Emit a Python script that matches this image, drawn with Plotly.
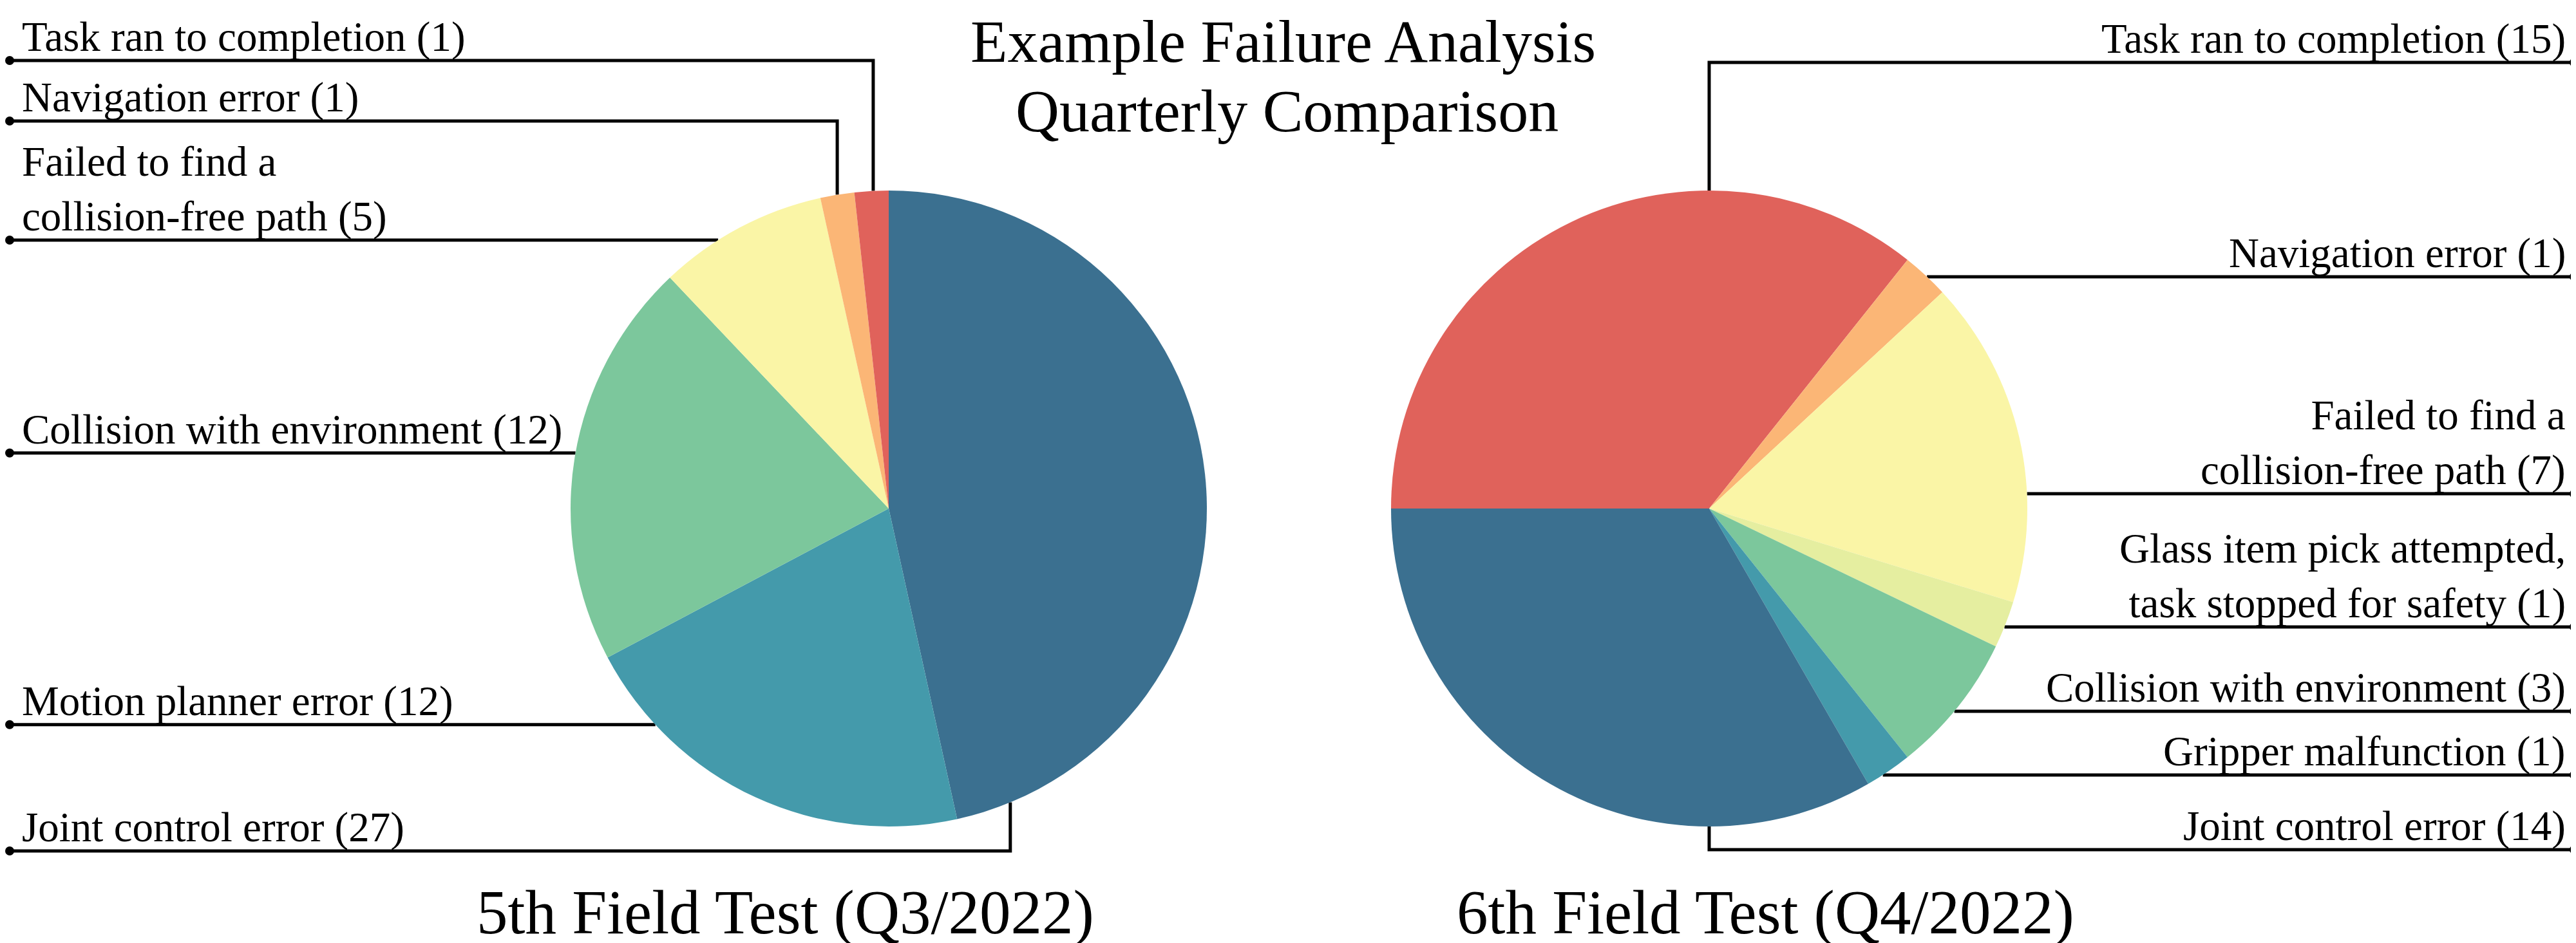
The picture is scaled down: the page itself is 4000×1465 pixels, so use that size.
import math
import plotly.graph_objects as go

W, H = 4000, 1465

# 5th field test (Q3/2022), clockwise from 12 o'clock
q3_causes = ["Joint control error", "Motion planner error", "Collision with environment",
             "Failed to find a<br>collision-free path", "Navigation error", "Task ran to completion"]
q3_counts = [27, 12, 12, 5, 1, 1]
q3_colors = ["#3b7090", "#449aab", "#7cc79c", "#faf5a6", "#fbb676", "#e0625b"]

# 6th field test (Q4/2022), clockwise from 9 o'clock
q4_causes = ["Task ran to completion", "Navigation error", "Failed to find a<br>collision-free path",
             "Glass item pick attempted,<br>task stopped for safety", "Collision with environment",
             "Gripper malfunction", "Joint control error"]
q4_counts = [15, 1, 7, 1, 3, 1, 14]
q4_colors = ["#e0625b", "#fbb676", "#faf5a6", "#e5eea0", "#7cc79c", "#449aab", "#3b7090"]

# leader layout: where on each slice the line lands (0..1 of the slice) and label row (px)
q3_anchor = [0.94, 0.80, 0.51, 0.355, 0.5, 0.55]
q3_row = [1314, None, None, None, 180, 86]
q4_anchor = [0.70, 0.54, 0.67, 0.55, 0.54, 0.64, 0.25]
q4_row = [89, None, None, None, None, None, 1312]

FONT = "Liberation Serif"
R = 494
CY = 782


def px(x):
    return x / W


def py(y):
    return 1 - y / H


fig = go.Figure()
shapes = []
annotations = []


def add_pie(causes, counts, colors, cx, rotation, anchors, rows, side):
    fig.add_trace(go.Pie(
        labels=[c.replace("<br>", " ") for c in causes],
        values=counts,
        marker=dict(colors=colors, line=dict(width=0)),
        sort=False,
        direction="clockwise",
        rotation=rotation,
        textinfo="none",
        showlegend=False,
        domain=dict(x=[px(cx - R), px(cx + R)], y=[py(CY + R), py(CY - R)]),
        hovertemplate="%{label}: %{value}<extra></extra>",
    ))

    total = sum(counts)
    start = rotation
    for cause, n, frac, row in zip(causes, counts, anchors, rows):
        width = 360 * n / total
        a = math.radians(start + frac * width)
        start += width
        ax = cx + R * math.sin(a)
        ay = CY - R * math.cos(a)
        ry = ay if row is None else row
        dot_x = 7 if side == "left" else 3989

        # elbow leader: out from the dot, then up/down to the slice edge
        path = f"M {px(dot_x)},{py(ry)} L {px(ax)},{py(ry)} L {px(ax)},{py(ay)}"
        shapes.append(dict(type="path", path=path, xref="paper", yref="paper",
                           line=dict(color="black", width=5), layer="below"))
        shapes.append(dict(type="circle", xref="paper", yref="paper",
                           x0=px(dot_x - 7), x1=px(dot_x + 7), y0=py(ry + 7), y1=py(ry - 7),
                           fillcolor="black", line=dict(width=0)))

        annotations.append(dict(
            text=f"{cause} ({n})", xref="paper", yref="paper",
            x=px(25) if side == "left" else px(3977), y=py(ry),
            xanchor="left" if side == "left" else "right", yanchor="bottom",
            align="left" if side == "left" else "right",
            showarrow=False, borderpad=0,
            font=dict(family=FONT, size=65, color="black"),
        ))


add_pie(q3_causes, q3_counts, q3_colors, 1372, 0, q3_anchor, q3_row, "left")
add_pie(q4_causes, q4_counts, q4_colors, 2646, 270, q4_anchor, q4_row, "right")

# title lines and per-pie captions
for text, x, bottom, size in [("Example Failure Analysis", 1984, 109, 94),
                              ("Quarterly Comparison", 1990, 217, 94),
                              ("5th Field Test (Q3/2022)", 1211, 1464, 97),
                              ("6th Field Test (Q4/2022)", 2733, 1464, 97)]:
    annotations.append(dict(
        text=text, xref="paper", yref="paper", x=px(x), y=py(bottom),
        xanchor="center", yanchor="bottom", showarrow=False, borderpad=0,
        font=dict(family=FONT, size=size, color="black"),
    ))

fig.update_layout(
    width=W,
    height=H,
    margin=dict(l=0, r=0, t=0, b=0),
    paper_bgcolor="white",
    plot_bgcolor="white",
    shapes=shapes,
    annotations=annotations,
    font=dict(family=FONT),
)

fig.write_html("out.html")
